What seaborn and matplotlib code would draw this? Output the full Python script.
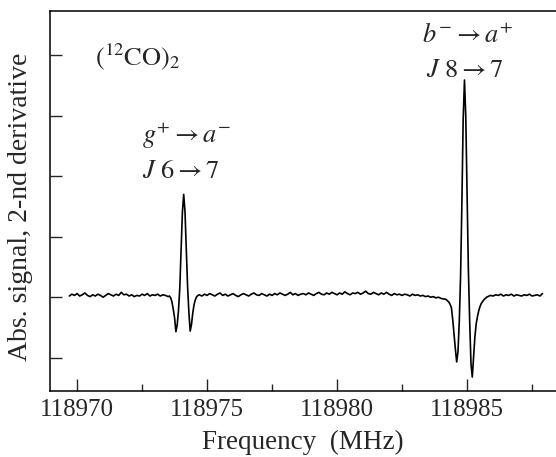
"""
Spectre (12CO)2 : signal d'absorption en dérivée seconde autour de 118980 MHz.
"""

import matplotlib

matplotlib.use("Agg")

import matplotlib.pyplot as plt
import numpy as np
import pandas as pd
import seaborn as sns
from matplotlib.ticker import MultipleLocator


# Segments de la trace (MHz de départ, pas en MHz, valeurs du signal en unités de graduation)
BASE_A_START, BASE_A_STEP = 118969.7, 0.1
BASE_A = [
    0.02, 0.05, 0.03, 0.06, 0.02, 0.04, 0.07, 0.03, 0.01, 0.04,
    0.02, 0.05, 0.03, 0.00, 0.03, 0.06, 0.04, 0.02, 0.05, 0.03,
    0.08, 0.04, 0.05, 0.02, 0.04, 0.01, 0.03, 0.02, 0.05, 0.03,
    0.06, 0.02, 0.04, 0.03, 0.05, 0.02, 0.04, 0.03, 0.01,
]

PEAK_1_START, PEAK_1_STEP = 118973.55, 0.05
PEAK_1 = [
    0.02, -0.01, -0.08, -0.20, -0.34, -0.57, -0.46, -0.22, 0.15, 0.80,
    1.40, 1.70, 1.42, 0.82, 0.18, -0.25, -0.56, -0.45, -0.26, -0.12,
    -0.04, 0.01, 0.03,
]

BASE_B_START, BASE_B_STEP = 118974.7, 0.1
BASE_B = [
    0.04, 0.02, 0.05, 0.03, 0.06, 0.04, 0.02, 0.05, 0.07, 0.03,
    0.05, 0.02, 0.04, 0.06, 0.03, 0.01, 0.04, 0.06, 0.04, 0.02,
    0.05, 0.07, 0.04, 0.03, 0.06, 0.04, 0.02, 0.05, 0.03, 0.06,
    0.04, 0.07, 0.05, 0.03, 0.05, 0.08, 0.04, 0.06, 0.03, 0.05,
    0.06, 0.04, 0.07, 0.05, 0.03, 0.06, 0.08, 0.05, 0.04, 0.07,
    0.05, 0.08, 0.06, 0.04, 0.07, 0.05, 0.09, 0.06, 0.04, 0.07,
    0.06, 0.08, 0.05, 0.07, 0.10, 0.06, 0.05, 0.08, 0.06, 0.04,
    0.07, 0.05, 0.08, 0.05, 0.03, 0.06, 0.04, 0.05, 0.03, 0.05,
    0.04, 0.02, 0.05, 0.03, 0.04, 0.02, 0.03, 0.01, 0.02, 0.00,
    0.01, -0.01, 0.00, -0.02, -0.03,
]

PEAK_2_START, PEAK_2_STEP = 118984.15, 0.05
PEAK_2 = [
    -0.03, -0.04, -0.06, -0.08, -0.12, -0.18, -0.38, -0.62, -0.86, -1.07,
    -0.90, -0.40, 0.35, 1.55, 2.95, 3.59, 2.98, 1.70, 0.45, -0.40,
    -1.10, -1.32, -1.00, -0.66, -0.44, -0.32, -0.22, -0.15, -0.10, -0.07,
    -0.04, -0.02, 0.00,
]

BASE_C_START, BASE_C_STEP = 118985.8, 0.1
BASE_C = [
    0.01, 0.03, 0.02, 0.04, 0.03, 0.05, 0.02, 0.04, 0.03, 0.05,
    0.02, 0.04, 0.03, 0.02, 0.04, 0.03, 0.05, 0.02, 0.03, 0.04,
    0.02, 0.06,
]

X_TICKS = [118970, 118975, 118980, 118985]
Y_TICKS = [-1, 0, 1, 2, 3, 4]


def segment(start: float, step: float, values: list) -> pd.DataFrame:
    """Associe une grille de fréquences régulière aux valeurs d'un segment."""
    freq = start + step * np.arange(len(values))
    return pd.DataFrame({"freq": np.round(freq, 3), "signal": values})


def build_trace() -> pd.DataFrame:
    parts = [
        segment(BASE_A_START, BASE_A_STEP, BASE_A),
        segment(PEAK_1_START, PEAK_1_STEP, PEAK_1),
        segment(BASE_B_START, BASE_B_STEP, BASE_B),
        segment(PEAK_2_START, PEAK_2_STEP, PEAK_2),
        segment(BASE_C_START, BASE_C_STEP, BASE_C),
    ]
    return pd.concat(parts, ignore_index=True)


def main() -> None:
    sns.set_style("ticks")
    plt.rcParams["font.family"] = ["Liberation Serif", "DejaVu Serif"]
    plt.rcParams["mathtext.fontset"] = "stix"

    trace = build_trace()

    fig = plt.figure(figsize=(5.56, 4.57), dpi=100)
    ax = fig.add_axes([0.09, 0.1444, 0.91, 0.8315])

    sns.lineplot(data=trace, x="freq", y="signal", ax=ax, color="black",
                 linewidth=1.2, estimator=None, sort=False)

    ax.set_xlim(118968.96, 118988.42)
    ax.set_ylim(-1.55, 4.73)
    ax.set_xticks(X_TICKS)
    ax.set_xticklabels([str(t) for t in X_TICKS])
    ax.xaxis.set_minor_locator(MultipleLocator(2.5))
    ax.set_yticks(Y_TICKS)
    ax.set_yticklabels([])

    ax.tick_params(axis="both", which="major", direction="in", length=8.5,
                   width=1.0, labelsize=18, top=False, right=False, pad=6)
    ax.tick_params(axis="x", which="minor", direction="in", length=5,
                   width=1.0, top=False)
    ax.spines["right"].set_visible(False)
    for side in ("left", "bottom", "top"):
        ax.spines[side].set_linewidth(1.1)
        ax.spines[side].set_color("black")

    ax.set_xlabel("Frequency  (MHz)", fontsize=19.5, labelpad=6)
    ax.set_ylabel("Abs. signal, 2-nd derivative", fontsize=20)
    ax.yaxis.set_label_coords(-0.034, 0.484)

    ax.text(118970.69, 3.97, r"$(^{12}\mathrm{CO})_2$", fontsize=19,
            ha="left", va="center")
    ax.text(118974.23, 2.545, r"$g^{+}\rightarrow a^{-}$", fontsize=19,
            ha="center", va="baseline")
    ax.text(118974.0, 1.967, r"$J\ 6\rightarrow 7$", fontsize=19,
            ha="center", va="baseline")
    ax.text(118985.0, 4.198, r"$b^{-}\rightarrow a^{+}$", fontsize=19,
            ha="center", va="baseline")
    ax.text(118984.92, 3.636, r"$J\ 8\rightarrow 7$", fontsize=19,
            ha="center", va="baseline")

    fig.savefig("out.png", dpi=100)
    plt.close(fig)


if __name__ == "__main__":
    main()
